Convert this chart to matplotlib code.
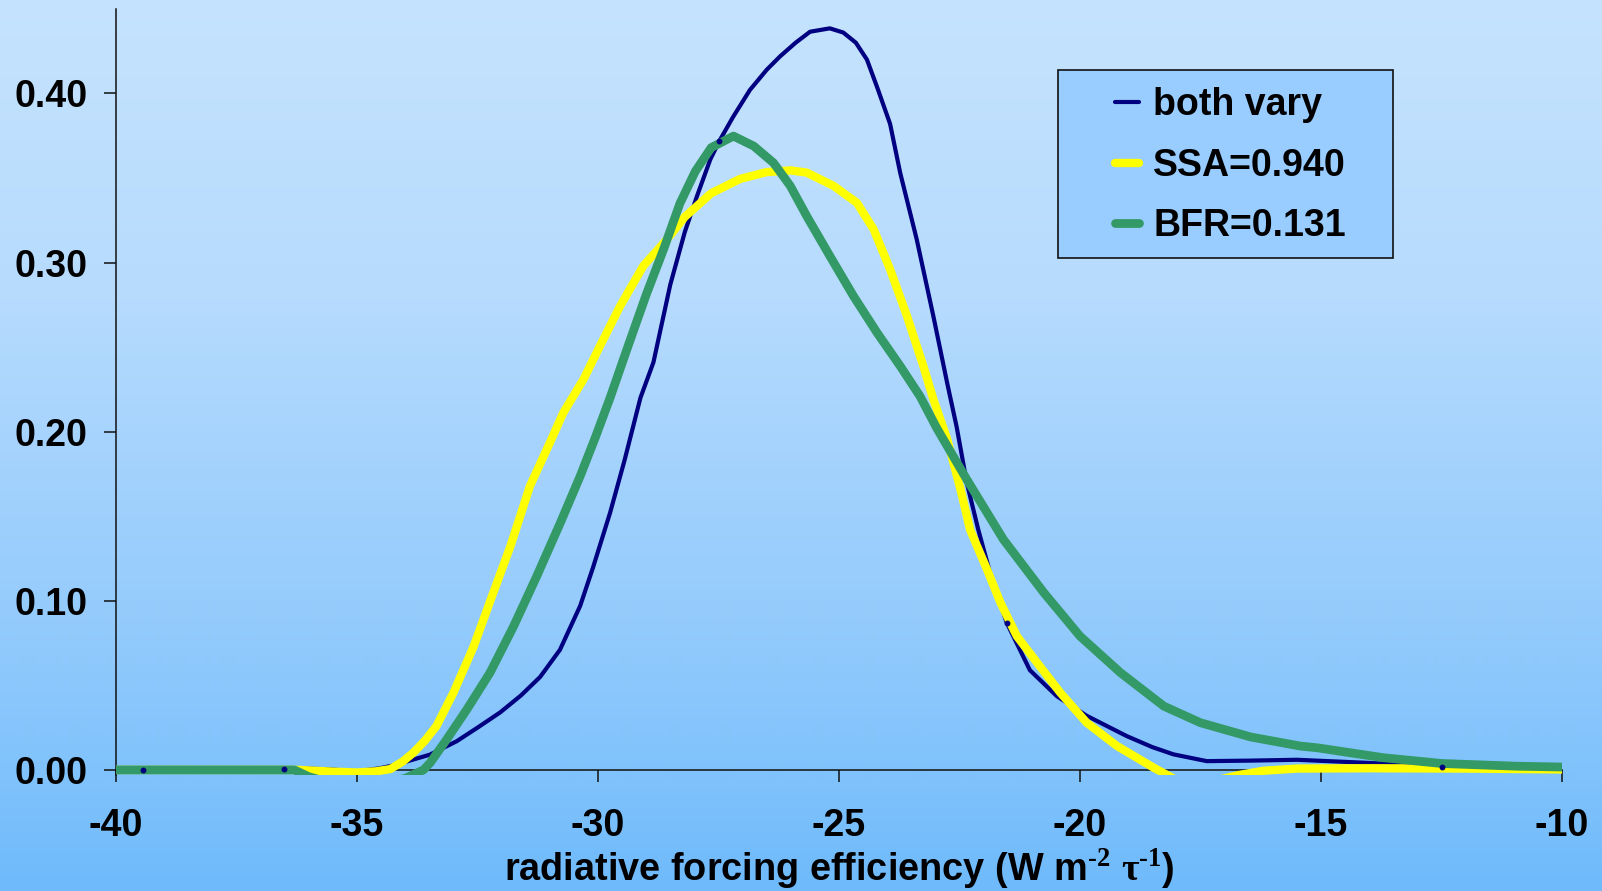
import numpy as np
import matplotlib
matplotlib.use("Agg")
import matplotlib.pyplot as plt
from matplotlib.patches import Rectangle

# ---- data: probability density of radiative forcing efficiency ----
both_x = [-40.0, -39.44, -38.0, -37.0, -36.52, -36.0, -35.5, -35.0, -34.52, -34.2,
          -33.85, -33.49, -32.93, -32.5, -32.03, -31.6, -31.2, -30.79, -30.37, -30.10,
          -29.75, -29.45, -29.12, -28.85, -28.50, -28.20, -27.95, -27.67, -27.48, -27.2,
          -26.85, -26.5, -26.22, -25.9, -25.60, -25.19, -24.91, -24.65, -24.42, -24.2,
          -23.94, -23.73, -23.39, -23.04, -22.75, -22.56, -22.35, -22.11, -21.85, -21.52,
          -21.04, -20.48, -19.86, -19.03, -18.5, -18.06, -17.37, -16.47, -15.5, -14.05,
          -12.49, -11.0, -10.0]
both_y = [0.0, 0.0, 0.0, 0.0, 0.0006, 0.0008, 0.0002, -0.0008, 0.001, 0.003,
          0.006, 0.009, 0.017, 0.025, 0.034, 0.044, 0.055, 0.071, 0.097, 0.120,
          0.152, 0.183, 0.220, 0.241, 0.287, 0.318, 0.339, 0.361, 0.372, 0.386,
          0.402, 0.414, 0.422, 0.430, 0.4365, 0.4385, 0.436, 0.430, 0.420, 0.403,
          0.382, 0.353, 0.314, 0.268, 0.228, 0.203, 0.170, 0.142, 0.115, 0.087,
          0.059, 0.0436, 0.032, 0.020, 0.0135, 0.0092, 0.0052, 0.0055, 0.006, 0.0042,
          0.002, 0.001, 0.0005]
both_marked_x = [-39.44, -36.52, -27.48, -21.52, -12.49]

ssa_x = [-40.0, -37.0, -36.2, -35.5, -35.0, -34.6, -34.31, -34.05, -33.83, -33.6,
         -33.35, -33.0, -32.58, -32.17, -31.82, -31.41, -30.99, -30.72, -30.30, -29.96,
         -29.54, -29.06, -28.57, -28.20, -27.65, -27.05, -26.50, -26.0, -25.67, -25.11,
         -24.63, -24.28, -23.94, -23.59, -23.25, -23.04, -22.76, -22.48, -22.28, -21.93,
         -21.65, -21.31, -20.89, -20.41, -19.86, -19.23, -18.47, -18.0, -17.3, -16.7,
         -16.2, -15.5, -14.0, -12.0, -10.0]
ssa_y = [0.0, 0.0, 0.0, -0.001, -0.0015, -0.0008, 0.0005, 0.005, 0.0102, 0.017,
         0.026, 0.0456, 0.073, 0.105, 0.132, 0.168, 0.194, 0.2112, 0.231, 0.2506,
         0.2743, 0.298, 0.3137, 0.327, 0.341, 0.3495, 0.3535, 0.3545, 0.3532, 0.3453,
         0.3354, 0.3196, 0.296, 0.2684, 0.2388, 0.219, 0.196, 0.166, 0.142, 0.1186,
         0.0989, 0.0791, 0.0634, 0.0457, 0.0279, 0.0141, 0.0013, -0.006, -0.007, -0.003,
         -0.0005, 0.0008, 0.001, 0.0008, 0.0003]

bfr_x = [-40.0, -37.0, -36.3, -36.0, -35.5, -35.0, -34.5, -34.0, -33.62, -33.48,
         -33.14, -32.72, -32.24, -31.75, -31.27, -30.78, -30.37, -30.05, -29.75, -29.40,
         -29.0, -28.64, -28.30, -27.98, -27.65, -27.19, -26.77, -26.36, -26.01, -25.67,
         -25.19, -24.70, -24.21, -23.73, -23.32, -22.97, -22.35, -22.14, -21.59, -20.75,
         -20.0, -19.16, -18.26, -17.50, -16.46, -15.43, -15.08, -13.70, -12.49, -10.94,
         -10.0]
bfr_y = [0.0, 0.0, 0.0, -0.004, -0.008, -0.009, -0.008, -0.005, 0.0, 0.0043,
         0.018, 0.0358, 0.0575, 0.085, 0.1146, 0.1462, 0.1737, 0.197, 0.220, 0.2487,
         0.281, 0.3078, 0.335, 0.354, 0.368, 0.3748, 0.3689, 0.359, 0.3453, 0.3275,
         0.3039, 0.2802, 0.2585, 0.2388, 0.221, 0.202, 0.1718, 0.162, 0.1363, 0.1048,
         0.0791, 0.0575, 0.0377, 0.0279, 0.0195, 0.0141, 0.0131, 0.0072, 0.0038, 0.0022,
         0.0017]

series_labels = ["both vary", "SSA=0.940", "BFR=0.131"]
x_ticks = [-40, -35, -30, -25, -20, -15, -10]
y_ticks = [0.0, 0.1, 0.2, 0.3, 0.4]
x_label = r"radiative forcing efficiency (W m$^{\text{-2}}$ $\mathrm{\tau}^{\text{-1}}$)"

# ---- style ----
plt.rcParams['font.family'] = ['Liberation Sans', 'DejaVu Sans']
plt.rcParams['font.weight'] = 'bold'
plt.rcParams['axes.unicode_minus'] = False
plt.rcParams['mathtext.fontset'] = 'custom'
plt.rcParams['mathtext.rm'] = 'Liberation Serif:bold'
plt.rcParams['mathtext.default'] = 'regular'

W, H, DPI = 1602, 891, 100
fig = plt.figure(figsize=(W / DPI, H / DPI), dpi=DPI)

# vertical blue gradient behind everything
bg = fig.add_axes([0, 0, 1, 1], zorder=0)
rows = np.arange(H)
stop_rows = [0, 300, 450, 600, 780, 891]
stop_rgb = np.array([(197, 227, 254), (182, 219, 253), (165, 211, 253),
                     (150, 204, 252), (127, 194, 252), (110, 186, 251)]) / 255.0
grad = np.stack([np.interp(rows, stop_rows, stop_rgb[:, k]) for k in range(3)], axis=-1)
bg.imshow(grad[:, None, :], aspect='auto', extent=[0, 1, 0, 1], interpolation='bilinear')
bg.set_axis_off()

# plot area
ax = fig.add_axes([116 / W, 1 - 775 / H, (1562 - 116) / W, (775 - 8.9) / H], zorder=1)
ax.set_facecolor('none')

l1, = ax.plot(both_x, both_y, color='#000080', lw=3.0, solid_joinstyle='round',
              label=series_labels[0], zorder=2)
l2, = ax.plot(ssa_x, ssa_y, color='#FFFF00', lw=6.0, solid_joinstyle='round',
              label=series_labels[1], zorder=3)
l3, = ax.plot(bfr_x, bfr_y, color='#339966', lw=6.3, solid_joinstyle='round',
              label=series_labels[2], zorder=4)
mark_idx = list(np.flatnonzero(np.isin(both_x, both_marked_x)))
ax.plot(both_x, both_y, ls='none', marker='o', ms=3.2, color='#000080',
        markevery=mark_idx, zorder=5)

ax.set_xlim(-40, -10)
ax.set_ylim(-0.003, 0.45)
ax.set_xticks(x_ticks)
ax.set_xticklabels([f"{v:d}" for v in x_ticks])
ax.set_yticks(y_ticks)
ax.set_yticklabels([f"{v:.2f}" for v in y_ticks])

for side in ('top', 'right'):
    ax.spines[side].set_visible(False)
ax.spines['bottom'].set_position(('data', 0))
for side in ('left', 'bottom'):
    ax.spines[side].set_linewidth(1.1)
    ax.spines[side].set_color('#111111')
    ax.spines[side].set_zorder(1.5)

ax.tick_params(axis='both', direction='out', length=8.5, width=1.1, color='#111111',
               labelsize=27)
ax.tick_params(axis='y', pad=12)
ax.tick_params(axis='x', pad=19)

ax.set_xlabel(x_label, fontsize=27.3, fontweight='bold')
ax.xaxis.set_label_coords(0.5, -0.139)
ax.xaxis.label.set_va('baseline')

# legend box
ax.add_artist(Rectangle((1058 / W, 1 - 258 / H), 335 / W, 188 / H,
                        transform=fig.transFigure, facecolor='#99CCFF',
                        edgecolor='#111111', linewidth=1.2, zorder=6, clip_on=False))
leg = ax.legend(handles=[l1, l2, l3], loc='upper left',
                bbox_to_anchor=(1114.5 / W, 1 - 87 / H), bbox_transform=fig.transFigure,
                frameon=False, borderpad=0, borderaxespad=0, handlelength=0.64,
                handletextpad=0.39, labelspacing=0.66,
                prop={'family': 'Liberation Sans', 'weight': 'bold', 'size': 27})
leg.set_zorder(7)
for h in leg.get_lines():
    h.set_solid_capstyle('round')

fig.savefig('out.png', dpi=DPI)
